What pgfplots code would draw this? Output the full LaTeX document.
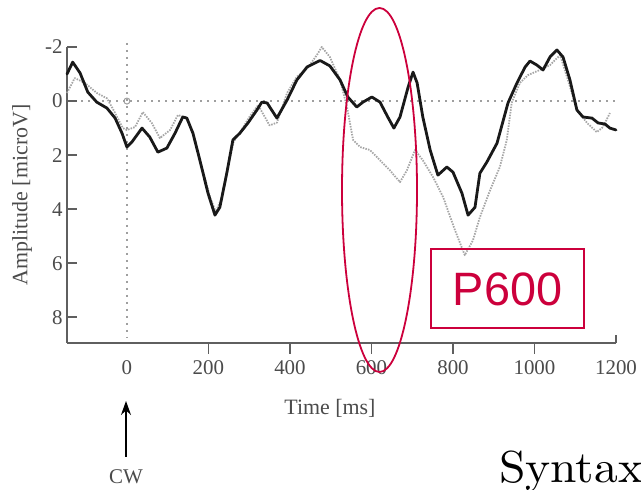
\documentclass[border=0pt]{standalone}
\usepackage{fontspec}
\usepackage{pgfplots}
\pgfplotsset{compat=1.18}
\usetikzlibrary{arrows.meta}
\newfontfamily\chartfont{Liberation Serif}
\newfontfamily\boxfont{Liberation Sans}
\newfontfamily\lmten{lmroman10-regular.otf}
\definecolor{pred}{RGB}{204,0,60}
\definecolor{txtgray}{RGB}{75,75,75}
\definecolor{axgray}{RGB}{95,95,95}

% ERP waveforms, amplitude in microvolt (negative up)
\pgfplotstableread{
t amp
-147 -1.0
-133 -1.44
-115 -1.04
-96 -0.33
-74 0.04
-49 0.26
-29 0.63
-12 1.19
0 1.7
12 1.52
37 1.0
56 1.33
76 1.89
98 1.74
118 1.19
137 0.59
147 0.63
162 1.19
179 2.19
199 3.41
216 4.22
228 3.93
245 2.67
260 1.44
277 1.19
297 0.81
319 0.33
331 0.04
344 0.07
368 0.63
393 -0.04
417 -0.78
442 -1.26
474 -1.5
498 -1.3
523 -0.78
542 -0.15
564 0.22
579 0.04
601 -0.15
621 0.04
640 0.59
655 1.0
670 0.59
690 -0.52
702 -1.07
712 -0.67
726 0.59
744 1.81
763 2.74
785 2.44
800 2.63
822 3.41
837 4.22
854 3.93
866 2.67
883 2.26
908 1.56
935 0.07
957 -0.67
977 -1.26
989 -1.48
1006 -1.33
1021 -1.15
1038 -1.63
1055 -1.89
1070 -1.63
1087 -0.78
1104 0.33
1119 0.59
1141 0.63
1156 0.81
1173 0.85
1185 1.0
1200 1.07
}\solid

\pgfplotstableread{
t amp
-147 -0.3
-128 -0.85
-103 -0.67
-74 -0.3
-49 -0.1
-34 0.3
-10 1.0
0 1.07
20 0.96
39 0.41
61 0.81
81 1.37
106 1.07
125 0.52
145 0.6
165 1.3
185 2.5
205 3.6
218 4.1
232 3.6
248 2.4
262 1.5
280 1.1
300 0.6
322 0.15
335 0.5
350 0.9
368 0.8
393 -0.3
417 -0.9
442 -1.2
466 -1.7
478 -2.0
498 -1.63
523 -0.78
540 0.22
555 1.44
572 1.7
596 1.81
621 2.19
645 2.56
670 3.0
687 2.56
707 1.81
726 2.19
751 2.81
776 3.56
805 4.78
829 5.7
849 5.15
866 4.3
891 3.3
915 2.44
932 1.44
944 0.07
964 -0.67
984 -0.96
1013 -1.15
1038 -1.33
1063 -1.7
1082 -0.78
1104 0.33
1129 0.81
1153 1.15
1168 0.96
1185 0.44
}\dotted

\begin{document}
\begin{tikzpicture}[x=1bp,y=1bp]
\clip (0,0) rectangle (641,490);
\begin{axis}[
    at={(67bp,147bp)}, anchor=south west,
    scale only axis, width=549bp, height=296bp,
    xmin=-147, xmax=1200, ymin=-2, ymax=8.95,
    y dir=reverse,
    axis x line*=bottom, axis y line*=left,
    axis line style={axgray, line width=1.6bp},
    tick align=inside,
    major tick length=0pt,
    xtick={0,200,...,1200},
    ytick={-2,0,...,8},
    font=\chartfont\fontsize{21}{24}\selectfont,
    /pgf/number format/assume math mode=true,
    /pgf/number format/set thousands separator={},
    ticklabel style={txtgray},
    xticklabel style={yshift=-14bp},
    yticklabel style={xshift=-1bp},
    xlabel={Time [ms]},
    ylabel={Amplitude [microV]},
    label style={txtgray, font=\chartfont\fontsize{22}{24}\selectfont},
    xlabel style={at={(axis description cs:0.479,-0.243)}, anchor=base},
    ylabel style={at={(axis description cs:-0.082,0.5)}, anchor=center},
    clip=false,
]
% reference lines
\draw[gray!75, line width=2bp, dash pattern=on 1.6bp off 5.4bp]
    (axis cs:-147,0) -- (axis cs:1200,0);
\draw[gray!75, line width=2bp, dash pattern=on 1.6bp off 5.4bp]
    (axis cs:0,-2.15) -- (axis cs:0,8.75);
\addplot[only marks, mark=o, mark size=3bp, gray!75, line width=1bp]
    coordinates {(0,0)};

\addplot[gray!70, line width=1.8bp, dash pattern=on 1.5bp off 1.2bp,
    line join=round] table[x=t, y=amp] {\dotted};
\addplot[black!90, line width=2.8bp, line join=round, line cap=round]
    table[x=t, y=amp] {\solid};
\end{axis}

% tick marks: y ticks inward, x ticks downward, hook at the right end
\foreach \yy in {443,389,335,281,227,173}
  \draw[axgray, line width=1.4bp] (67,\yy) -- (77,\yy);
\foreach \xx in {208.5,290,371.5,453,534.5}
  \draw[axgray, line width=1.4bp] (\xx,147) -- (\xx,136);
\draw[axgray, line width=1.6bp] (616,147) -- (616,155);

% annotations
\draw[pred, line width=1.8bp] (379.5,300) ellipse [x radius=37.5, y radius=182];
\draw[pred, line width=1.5bp] (431,162) rectangle (584,241);
\node[pred, font=\boxfont\fontsize{47}{50}\selectfont, inner sep=0pt]
    at (507.5,200.5) {P600};

\draw[black, line width=1.6bp, -{Stealth[length=14bp, width=10bp]}]
    (126,33) -- (126,89);
\node[txtgray, font=\chartfont\fontsize{21}{24}\selectfont, inner sep=0pt,
    anchor=base] at (126,6) {CW};

\node[anchor=base west, inner sep=0pt, xscale=1.06,
    font=\lmten\fontsize{45}{50}\selectfont] at (499,7) {Syntax};
\end{tikzpicture}
\end{document}
